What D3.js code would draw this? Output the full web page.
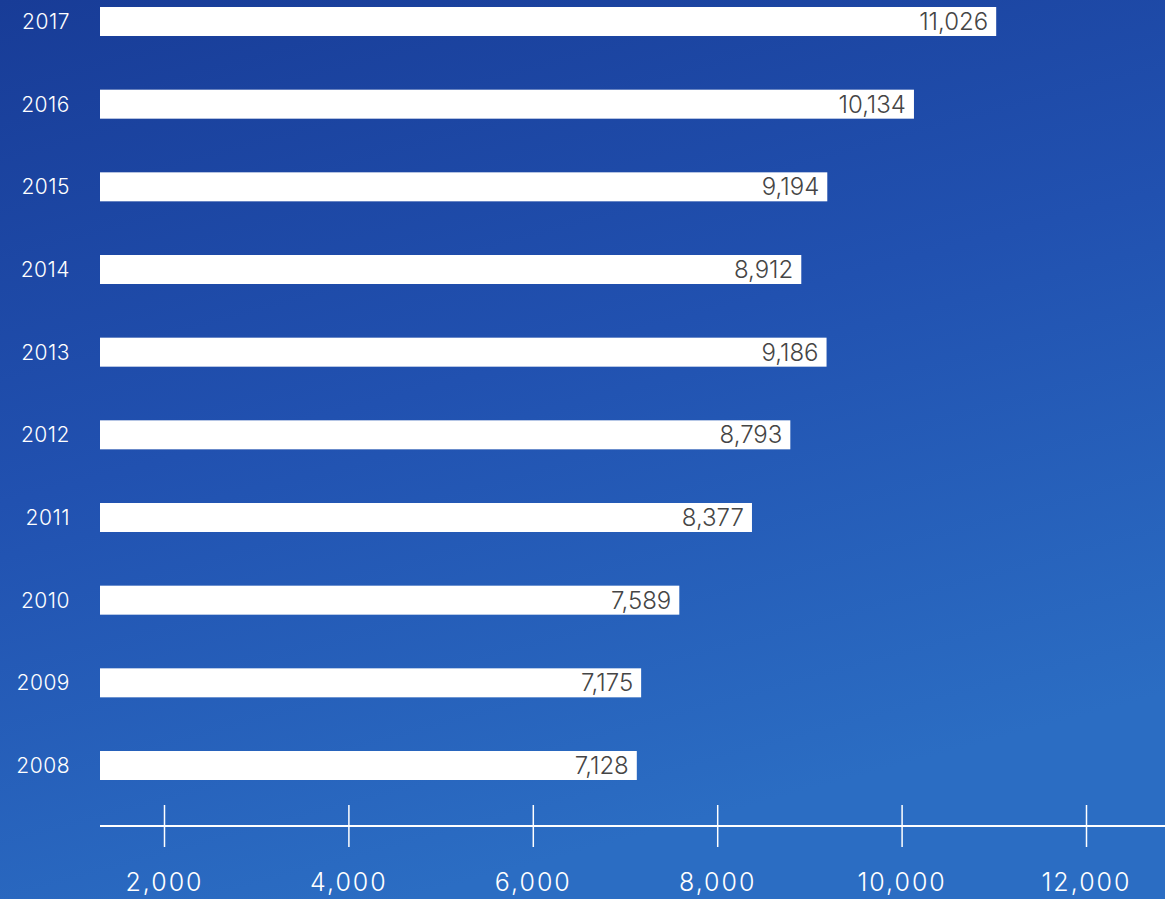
<!DOCTYPE html>
<html>
<head>
<meta charset="utf-8">
<script src="https://cdn.jsdelivr.net/npm/d3@7"></script>
<style>
  html, body { margin: 0; padding: 0; overflow: hidden; }
  svg { display: block; font-family: "Inter", "Lato", sans-serif; font-weight: 300; }
</style>
</head>
<body>
<svg id="chart" width="1165" height="899"></svg>
<script>
// data, top bar first
var years = ["2017","2016","2015","2014","2013","2012","2011","2010","2009","2008"];
var counts = [11026, 10134, 9194, 8912, 9186, 8793, 8377, 7589, 7175, 7128];
var tickValues = [2000, 4000, 6000, 8000, 10000, 12000];

var W = 1165, H = 899;
var svg = d3.select("#chart");

// background gradient
var defs = svg.append("defs");
var grad = defs.append("linearGradient")
    .attr("id", "bg")
    .attr("x1", "0").attr("y1", "0")
    .attr("x2", "0.35").attr("y2", "1");
grad.append("stop").attr("offset", "0").attr("stop-color", "#183c97");
grad.append("stop").attr("offset", "0.5").attr("stop-color", "#2151b0");
grad.append("stop").attr("offset", "1").attr("stop-color", "#2b6dc3");
svg.append("rect").attr("width", W).attr("height", H).attr("fill", "url(#bg)");

var barLeft = 100;
var x = d3.scaleLinear().domain([2000, 12000]).range([164, 1086]);
var y = d3.scalePoint().domain(years).range([21.5, 765.5]);
var barH = 29;

var fmt = d3.format(",");

var rows = svg.selectAll("g.row")
    .data(years.map(function(d, i){ return {year: d, value: counts[i]}; }))
    .enter().append("g")
    .attr("class", "row")
    .attr("transform", function(d){ return "translate(0," + y(d.year) + ")"; });

rows.append("rect")
    .attr("x", barLeft)
    .attr("y", -barH / 2)
    .attr("width", function(d){ return x(d.value) - barLeft; })
    .attr("height", barH)
    .attr("fill", "#ffffff");

rows.append("text")
    .attr("x", function(d){ return x(d.value) - 8; })
    .attr("dy", "0.36em")
    .attr("text-anchor", "end")
    .attr("fill", "#454545")
    .style("font-size", "24px")
    .text(function(d){ return fmt(d.value); });

rows.append("text")
    .attr("x", 70)
    .attr("dy", "0.36em")
    .attr("text-anchor", "end")
    .attr("fill", "#ffffff")
    .style("font-size", "21px")
    .style("letter-spacing", "0.5px")
    .text(function(d){ return d.year; });

// x axis
var axisY = 826;
svg.append("line")
    .attr("x1", 100).attr("x2", W)
    .attr("y1", axisY).attr("y2", axisY)
    .attr("stroke", "#ffffff")
    .attr("stroke-width", 2);

var axis = svg.append("g")
    .attr("transform", "translate(0," + axisY + ")")
    .call(d3.axisBottom(x).tickValues(tickValues).tickFormat(fmt).tickSize(0));
axis.select(".domain").remove();
axis.selectAll(".tick line")
    .attr("y1", -21).attr("y2", 21)
    .attr("stroke", "#ffffff")
    .attr("stroke-width", 1.5);
axis.selectAll(".tick text")
    .attr("y", 56)
    .attr("dy", "0.36em")
    .attr("fill", "#ffffff")
    .style("font-size", "25px")
    .style("letter-spacing", "2px")
    .style("font-weight", "300")
    .style("font-family", "Inter, Lato, sans-serif");
</script>
</body>
</html>
